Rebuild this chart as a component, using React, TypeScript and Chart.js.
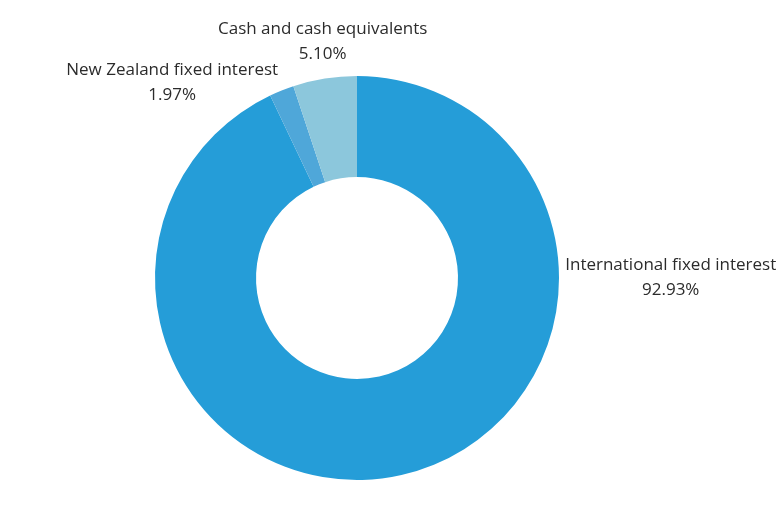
import React, { useEffect, useRef } from "react";
import { Chart, registerables } from "chart.js";

Chart.register(...registerables);

const categories = ["International fixed interest", "New Zealand fixed interest", "Cash and cash equivalents"];
const values = [92.93, 1.97, 5.10];
const colors = ["#259DD8", "#4FA7D9", "#8CC7DC"];
// label anchor offsets relative to the doughnut centre, in units of the outer radius
const labelOffsets = [
  { dx: 1.553, dy: -0.063 },
  { dx: -0.915, dy: -1.03 },
  { dx: -0.17, dy: -1.232 },
];

const labelPlugin = {
  id: "outerLabels",
  afterDatasetsDraw(chart: any) {
    const ctx = chart.ctx;
    const meta = chart.getDatasetMeta(0);
    ctx.save();
    ctx.font = "17px 'Open Sans', sans-serif";
    ctx.fillStyle = "#2b2b2b";
    ctx.textAlign = "center";
    ctx.textBaseline = "middle";
    meta.data.forEach((arc: any, i: number) => {
      const { x, y, outerRadius } = arc.getProps(["x", "y", "outerRadius"], true);
      const off = labelOffsets[i];
      const cx = x + off.dx * outerRadius;
      const cy = y + off.dy * outerRadius;
      ctx.fillText(categories[i], cx, cy);
      ctx.fillText(values[i].toFixed(2) + "%", cx, cy + 25);
    });
    ctx.restore();
  },
};

export default function App() {
  const ref = useRef<HTMLCanvasElement>(null);
  useEffect(() => {
    document.body.style.margin = "0";
    const chart = new Chart(ref.current!, {
      type: "doughnut",
      data: {
        labels: categories,
        datasets: [
          {
            data: values,
            backgroundColor: colors,
            borderWidth: 0,
          },
        ],
      },
      options: {
        animation: false,
        responsive: false,
        cutout: "50%",
        layout: { padding: { left: 155, right: 222, top: 76, bottom: 49 } },
        plugins: { legend: { display: false }, tooltip: { enabled: false } },
      },
      plugins: [labelPlugin],
    });
    return () => chart.destroy();
  }, []);
  return (
    <div style={{ width: 781, height: 529, background: "#fff" }}>
      <canvas ref={ref} width={781} height={529} />
    </div>
  );
}
